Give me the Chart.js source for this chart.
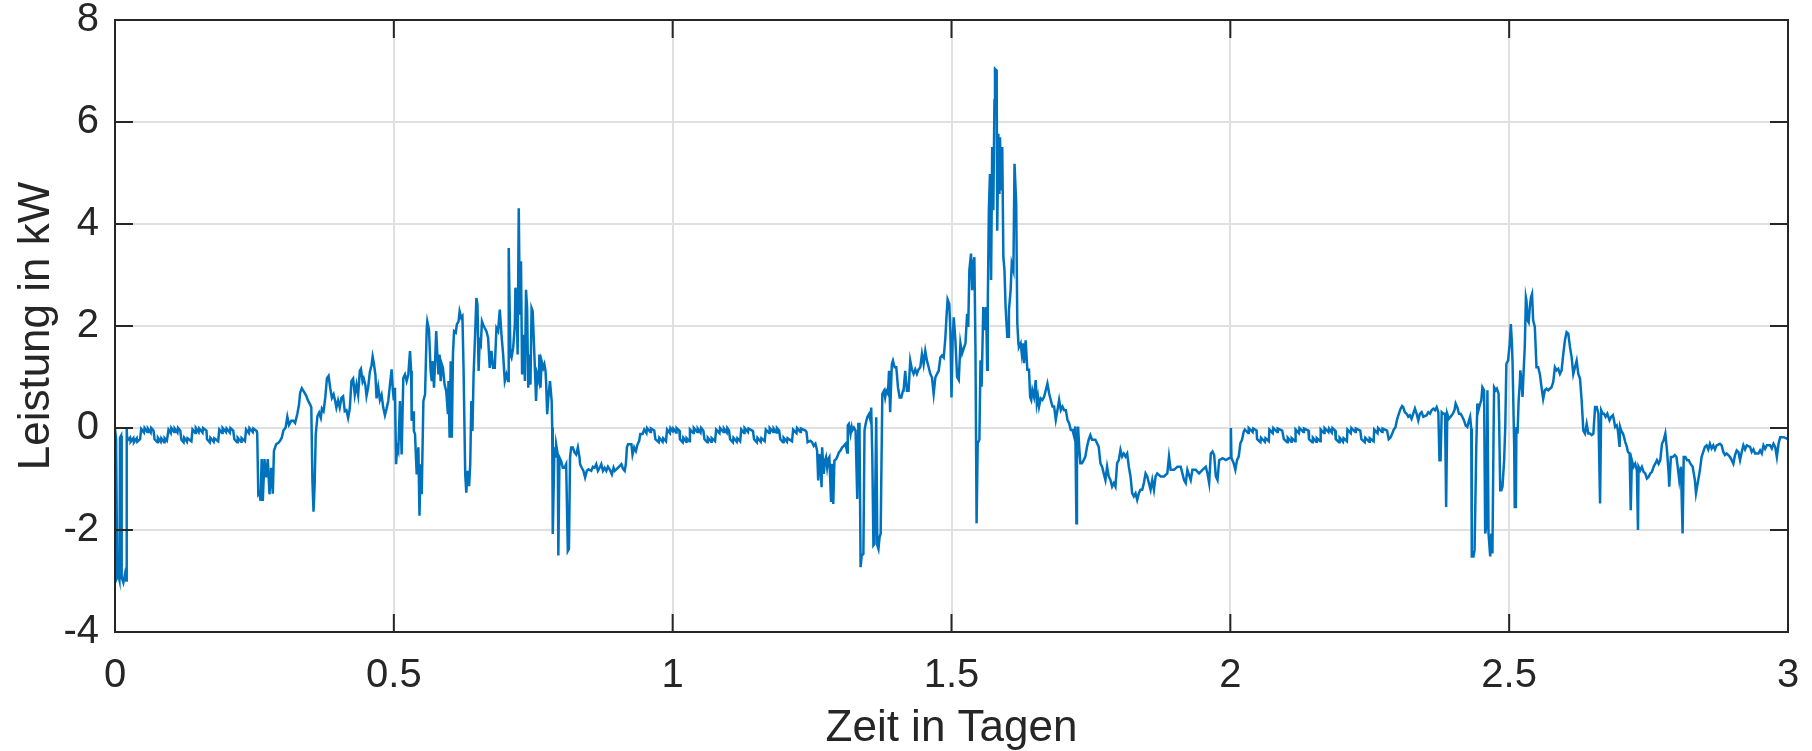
<!DOCTYPE html>
<html lang="de">
<head>
<meta charset="utf-8">
<title>Leistung über drei Tage</title>
<script src="https://cdn.jsdelivr.net/npm/chart.js@4/dist/chart.umd.min.js"></script>
<style>
  html, body { margin: 0; padding: 0; background: #fff; }
  canvas { display: block; }
</style>
</head>
<body>
<canvas id="leistungChart" width="1812" height="751"></canvas>
<script>
// Achsen
const xTicks = [0, 0.5, 1, 1.5, 2, 2.5, 3];
const yTicks = [-4, -2, 0, 2, 4, 6, 8];

// Messwerte [Zeit in Tagen, Leistung in kW], je Tag eine Liste
const tag1 = [
  [0.000, -0.02], [0.002, -0.22], [0.004, -2.93], [0.006, -2.88], [0.008, -2.98], [0.009, -0.19],
  [0.011, -0.15], [0.012, -2.93], [0.015, -3.03], [0.018, -2.86], [0.020, -2.99], [0.021, -0.02],
  [0.022, -0.25], [0.027, -0.19], [0.028, -0.27], [0.033, -0.20], [0.034, -0.28], [0.039, -0.20],
  [0.040, -0.27], [0.045, -0.22],
  [0.047, -0.02], [0.052, -0.09], [0.053, 0.00], [0.058, -0.08], [0.059, -0.01], [0.064, -0.09],
  [0.065, 0.00], [0.069, -0.05],
  [0.071, -0.22], [0.076, -0.28], [0.077, -0.19], [0.082, -0.27], [0.083, -0.20], [0.088, -0.28],
  [0.089, -0.20], [0.093, -0.25],
  [0.096, -0.03], [0.100, -0.10], [0.101, 0.00], [0.106, -0.08], [0.107, -0.01], [0.112, -0.09],
  [0.113, 0.00], [0.117, -0.05],
  [0.119, -0.23], [0.123, -0.28], [0.124, -0.19], [0.129, -0.27], [0.130, -0.20], [0.137, -0.26],
  [0.139, -0.03], [0.144, -0.10], [0.145, 0.00], [0.150, -0.08], [0.151, -0.01], [0.157, -0.09],
  [0.158, 0.00], [0.164, -0.05],
  [0.165, -0.22], [0.170, -0.28], [0.171, -0.19], [0.177, -0.27], [0.178, -0.20], [0.185, -0.26],
  [0.187, -0.03], [0.192, -0.10], [0.193, 0.00], [0.199, -0.08], [0.200, -0.01], [0.206, -0.09],
  [0.207, 0.00], [0.212, -0.05],
  [0.214, -0.22], [0.219, -0.28], [0.220, -0.19], [0.226, -0.27], [0.227, -0.20], [0.233, -0.26],
  [0.235, -0.03], [0.240, -0.10], [0.241, 0.00], [0.247, -0.08], [0.248, -0.01], [0.254, -0.06],
  [0.255, -0.10], [0.257, -1.30], [0.259, -1.27], [0.261, -1.43], [0.263, -0.61], [0.265, -1.43],
  [0.268, -0.61], [0.271, -0.97], [0.274, -0.61], [0.277, -1.30], [0.280, -0.78], [0.283, -1.29],
  [0.285, -0.45], [0.289, -0.32], [0.293, -0.29], [0.296, -0.25], [0.299, -0.19], [0.302, -0.05],
  [0.306, 0.01], [0.309, 0.22], [0.312, 0.06], [0.316, 0.14], [0.320, 0.14], [0.323, 0.10],
  [0.327, 0.28], [0.330, 0.46], [0.332, 0.69], [0.335, 0.78], [0.339, 0.71], [0.343, 0.63],
  [0.346, 0.54], [0.350, 0.46], [0.352, 0.40], [0.354, -1.04], [0.356, -1.64], [0.358, -1.10],
  [0.360, -0.12], [0.363, 0.23], [0.366, 0.30], [0.369, 0.20], [0.371, 0.38], [0.374, 0.33],
  [0.377, 0.59], [0.380, 0.97], [0.383, 1.02], [0.386, 0.78], [0.389, 0.59], [0.392, 0.66],
  [0.395, 0.52], [0.397, 0.40], [0.400, 0.54], [0.403, 0.40], [0.406, 0.59], [0.409, 0.62],
  [0.412, 0.33], [0.415, 0.35], [0.418, 0.20], [0.421, 0.38], [0.424, 0.92], [0.427, 0.97],
  [0.430, 0.65], [0.433, 0.85], [0.436, 0.65], [0.439, 1.12], [0.441, 1.16], [0.444, 0.91],
  [0.446, 0.97], [0.449, 0.84], [0.451, 0.63], [0.454, 0.80], [0.457, 1.10], [0.460, 1.23],
  [0.462, 1.40], [0.464, 1.28], [0.467, 1.04], [0.469, 0.58], [0.472, 0.80], [0.475, 0.55],
  [0.478, 0.65], [0.481, 0.40], [0.484, 0.25], [0.487, 0.38], [0.490, 0.53], [0.493, 0.84],
  [0.496, 1.15], [0.498, 0.78], [0.500, 0.54],
  [0.502, 0.79], [0.504, -0.71], [0.506, -0.38], [0.508, -0.45], [0.511, 0.53], [0.513, -0.12],
  [0.514, -0.52], [0.517, 0.98], [0.520, 1.05], [0.523, 0.92], [0.526, 1.05], [0.529, 1.51],
  [0.531, 1.12], [0.532, 0.14], [0.535, 0.33], [0.536, -0.06], [0.538, -0.12], [0.541, -0.91],
  [0.544, -0.38], [0.546, -1.72], [0.548, -0.71], [0.550, -1.30], [0.553, 0.53], [0.556, 0.66],
  [0.559, 1.96], [0.560, 2.09], [0.563, 1.93], [0.566, 1.12], [0.568, 0.92], [0.570, 1.31],
  [0.572, 0.79], [0.574, 1.31], [0.576, 1.90], [0.578, 1.44], [0.580, 1.05], [0.582, 1.44],
  [0.584, 0.92], [0.586, 1.25], [0.588, 1.18], [0.591, 0.85], [0.594, 0.72], [0.597, 0.27],
  [0.598, 0.92], [0.600, -0.19], [0.602, 1.31], [0.604, -0.19], [0.606, 1.44], [0.608, 1.90],
  [0.611, 1.87], [0.613, 2.03], [0.616, 2.09], [0.618, 2.29], [0.621, 2.16], [0.623, 2.19],
  [0.625, 1.18], [0.628, -0.91], [0.630, -1.27], [0.632, -0.84], [0.635, -1.14], [0.637, -0.71],
  [0.639, 0.53], [0.641, -0.06], [0.643, 1.05], [0.646, 1.90], [0.648, 2.55], [0.650, 2.42],
  [0.652, 1.12], [0.654, 1.70], [0.656, 1.64], [0.658, 2.09], [0.660, 2.03], [0.663, 1.96],
  [0.666, 1.90], [0.669, 1.77], [0.672, 1.18], [0.675, 1.51], [0.678, 1.18], [0.681, 1.18],
  [0.684, 1.96], [0.687, 1.90], [0.690, 2.32], [0.693, 1.83], [0.696, 1.44], [0.699, 0.92],
  [0.702, 1.05], [0.705, 0.92], [0.706, 3.53], [0.709, 1.44], [0.711, 1.38], [0.714, 1.57],
  [0.717, 2.03], [0.718, 2.75], [0.720, 2.55], [0.722, 1.44], [0.724, 4.31], [0.726, 2.22],
  [0.728, 3.27], [0.730, 1.05], [0.733, 1.83], [0.735, 0.92], [0.737, 2.71], [0.739, 2.35],
  [0.741, 0.79], [0.743, 1.44], [0.745, 0.85], [0.747, 2.35], [0.749, 2.29], [0.752, 1.44],
  [0.754, 0.85], [0.755, 0.53], [0.757, 1.05], [0.760, 0.92], [0.761, 1.44], [0.763, 0.79],
  [0.765, 1.31], [0.768, 1.18], [0.770, 1.25], [0.772, 1.12], [0.773, 0.92], [0.775, 0.27],
  [0.777, 0.59], [0.780, 0.92], [0.781, 0.79], [0.783, 0.53], [0.784, 0.01], [0.785, -2.08],
  [0.788, -0.38], [0.790, -0.58], [0.791, -0.32], [0.794, -0.52], [0.795, -2.50], [0.797, -0.58],
  [0.800, -0.65], [0.803, -0.78], [0.806, -0.78], [0.809, -0.71], [0.812, -2.41], [0.814, -2.37],
  [0.816, -0.58], [0.818, -0.38], [0.821, -0.38], [0.824, -0.48], [0.827, -0.52], [0.830, -0.38],
  [0.833, -0.58], [0.834, -0.71], [0.837, -0.78], [0.840, -0.84], [0.843, -0.97], [0.846, -0.84],
  [0.849, -0.81], [0.854, -0.84], [0.857, -0.76], [0.860, -0.78], [0.863, -0.71], [0.866, -0.84],
  [0.869, -0.78], [0.872, -0.71], [0.875, -0.84], [0.878, -0.78], [0.881, -0.84], [0.884, -0.76],
  [0.887, -0.81], [0.891, -0.91], [0.894, -0.78], [0.896, -0.84], [0.902, -0.78], [0.908, -0.71],
  [0.911, -0.80], [0.914, -0.84], [0.916, -0.71], [0.918, -0.38], [0.920, -0.32], [0.926, -0.32],
  [0.928, -0.52], [0.931, -0.38], [0.934, -0.45], [0.937, -0.32], [0.940, -0.25], [0.942, -0.12],
  [0.946, -0.12], [0.949, -0.03],
  [0.953, -0.10], [0.954, 0.00], [0.960, -0.08], [0.961, -0.01], [0.967, -0.05],
  [0.969, -0.22], [0.975, -0.28], [0.976, -0.19], [0.982, -0.27], [0.983, -0.20], [0.988, -0.26],
  [0.990, -0.03], [0.995, -0.10], [0.996, 0.00], [1.000, -0.06]
];

const tag2 = [
  [1.001, -0.01], [1.006, -0.09], [1.007, 0.00], [1.012, -0.05],
  [1.013, -0.22], [1.018, -0.28], [1.019, -0.19], [1.024, -0.27], [1.025, -0.20], [1.030, -0.26],
  [1.031, -0.03], [1.037, -0.10], [1.038, 0.00], [1.044, -0.08], [1.045, -0.01], [1.050, -0.09],
  [1.051, 0.00], [1.055, -0.05],
  [1.057, -0.22], [1.062, -0.28], [1.063, -0.19], [1.069, -0.27], [1.070, -0.20], [1.076, -0.26],
  [1.078, -0.03], [1.084, -0.10], [1.085, 0.00], [1.091, -0.08], [1.092, -0.01], [1.097, -0.09],
  [1.098, 0.00], [1.101, -0.05],
  [1.103, -0.22], [1.108, -0.28], [1.109, -0.19], [1.115, -0.27], [1.116, -0.20], [1.121, -0.26],
  [1.123, -0.03], [1.128, -0.10], [1.129, 0.00], [1.135, -0.08], [1.136, -0.01], [1.144, -0.06],
  [1.146, -0.22], [1.151, -0.28], [1.152, -0.19], [1.158, -0.27], [1.159, -0.20], [1.165, -0.26],
  [1.167, -0.03], [1.173, -0.10], [1.174, 0.00], [1.180, -0.08], [1.181, -0.01], [1.186, -0.09],
  [1.187, 0.00], [1.191, -0.05],
  [1.193, -0.22], [1.198, -0.28], [1.199, -0.19], [1.205, -0.27], [1.206, -0.20], [1.214, -0.26],
  [1.216, -0.03], [1.222, -0.10], [1.223, 0.00], [1.229, -0.08], [1.230, -0.01], [1.238, -0.05],
  [1.240, -0.08], [1.242, -0.28], [1.247, -0.25], [1.250, -0.28], [1.253, -0.35], [1.256, -0.31],
  [1.259, -0.44], [1.261, -1.03], [1.263, -0.51], [1.265, -0.70], [1.267, -1.16], [1.268, -0.38],
  [1.271, -0.90], [1.273, -0.64], [1.275, -0.57], [1.277, -0.77], [1.279, -0.61], [1.281, -0.57],
  [1.284, -1.45], [1.286, -0.70], [1.288, -1.49], [1.290, -0.64], [1.293, -0.61], [1.295, -0.57],
  [1.298, -0.48], [1.301, -0.44], [1.304, -0.38], [1.307, -0.35], [1.310, -0.31], [1.313, -0.48],
  [1.314, 0.05], [1.316, 0.08], [1.319, -0.12], [1.321, 0.01], [1.322, -0.05], [1.325, 0.01],
  [1.328, -0.05], [1.331, -1.39], [1.333, 0.08], [1.335, 0.08], [1.337, -2.73], [1.339, -2.50],
  [1.342, -2.47], [1.344, -0.05], [1.346, 0.08], [1.349, 0.21], [1.352, 0.27], [1.355, 0.14],
  [1.356, 0.40], [1.358, -0.57], [1.360, -2.30], [1.362, -2.27], [1.365, 0.21], [1.367, -2.30],
  [1.369, -2.37], [1.371, -2.14], [1.373, -2.07], [1.374, -1.10], [1.376, 0.67], [1.379, 0.73],
  [1.381, 0.60], [1.383, 0.73], [1.386, 0.67], [1.388, 1.12], [1.390, 0.31], [1.393, 1.25],
  [1.395, 1.32], [1.398, 1.19], [1.401, 1.19], [1.404, 0.80], [1.407, 0.60], [1.410, 0.60],
  [1.413, 0.73], [1.414, 0.73], [1.417, 1.12], [1.420, 0.73], [1.423, 0.73], [1.426, 1.32],
  [1.429, 1.15], [1.432, 1.06], [1.435, 1.15], [1.438, 1.06], [1.441, 1.15], [1.444, 1.19],
  [1.447, 1.45], [1.450, 1.25], [1.453, 1.51], [1.456, 1.32], [1.459, 1.19], [1.462, 1.06],
  [1.465, 0.99], [1.468, 0.67], [1.471, 0.99], [1.474, 1.06], [1.477, 1.12], [1.480, 1.38],
  [1.483, 1.42], [1.486, 1.38], [1.489, 1.77], [1.491, 2.17], [1.493, 2.52], [1.496, 2.43],
  [1.498, 1.90], [1.500, 0.60], [1.502, 1.71], [1.504, 2.17],
  [1.507, 1.72], [1.510, 1.00], [1.513, 0.94], [1.516, 1.66], [1.519, 1.46], [1.522, 1.56],
  [1.525, 1.66], [1.528, 2.24], [1.530, 1.98], [1.532, 3.09], [1.535, 3.42], [1.537, 2.70],
  [1.539, 3.22], [1.541, 3.35], [1.543, 1.53], [1.545, -1.87], [1.547, -0.30], [1.550, -0.23],
  [1.552, 1.33], [1.554, 0.81], [1.557, 2.37], [1.559, 1.92], [1.562, 2.37], [1.564, 1.14],
  [1.565, 2.37], [1.567, 4.27], [1.569, 4.98], [1.571, 2.90], [1.573, 5.51], [1.575, 4.27],
  [1.577, 6.42], [1.578, 7.04], [1.581, 7.01], [1.582, 3.87], [1.584, 5.77], [1.586, 4.59],
  [1.587, 5.70], [1.589, 4.66], [1.591, 5.51], [1.593, 3.35], [1.595, 3.09], [1.597, 2.37],
  [1.600, 1.79], [1.602, 1.79], [1.603, 2.31], [1.606, 2.70], [1.608, 3.22], [1.611, 3.09],
  [1.613, 5.18], [1.616, 4.40], [1.618, 2.05], [1.620, 1.66], [1.621, 1.59], [1.624, 1.66],
  [1.626, 1.46], [1.628, 1.66], [1.630, 1.27], [1.633, 1.72], [1.636, 1.14], [1.639, 1.14],
  [1.641, 0.61], [1.643, 0.55], [1.645, 0.74], [1.648, 0.61], [1.651, 0.94], [1.653, 0.48],
  [1.655, 0.61], [1.657, 0.42], [1.660, 0.58], [1.663, 0.55], [1.666, 0.61], [1.669, 0.74],
  [1.672, 0.87], [1.675, 0.68], [1.678, 0.55], [1.681, 0.42], [1.684, 0.42], [1.687, 0.16],
  [1.690, 0.35], [1.693, 0.55], [1.696, 0.35], [1.699, 0.42], [1.702, 0.35], [1.705, 0.35],
  [1.708, 0.16], [1.711, 0.09], [1.714, -0.04], [1.717, -0.04], [1.720, -0.17], [1.722, 0.03],
  [1.724, -1.87], [1.725, -0.63], [1.727, 0.03], [1.729, -0.37], [1.731, -0.69], [1.734, -0.69],
  [1.737, -0.63], [1.740, -0.56], [1.743, -0.37], [1.746, -0.23], [1.749, -0.14], [1.752, -0.23],
  [1.755, -0.23], [1.758, -0.23], [1.761, -0.30], [1.764, -0.37], [1.767, -0.69], [1.770, -0.76],
  [1.773, -0.89], [1.776, -1.02], [1.779, -0.76], [1.782, -0.95], [1.785, -1.02], [1.788, -1.15],
  [1.791, -1.08], [1.794, -1.15], [1.797, -0.69], [1.800, -0.63], [1.803, -0.43], [1.806, -0.56],
  [1.809, -0.50], [1.812, -0.56], [1.815, -0.50], [1.818, -0.76], [1.821, -0.95], [1.824, -1.28],
  [1.827, -1.34], [1.830, -1.28], [1.833, -1.41], [1.836, -1.28], [1.839, -1.21], [1.842, -1.21],
  [1.845, -1.08], [1.848, -0.89], [1.851, -0.95], [1.854, -1.08], [1.857, -1.21], [1.860, -1.02],
  [1.863, -1.21], [1.866, -0.95], [1.869, -0.89], [1.875, -0.95], [1.881, -0.95], [1.887, -0.89],
  [1.890, -0.56], [1.893, -0.82], [1.899, -0.82], [1.905, -0.76], [1.911, -0.76], [1.914, -0.89],
  [1.917, -1.02], [1.920, -1.08], [1.923, -0.82], [1.929, -1.02], [1.932, -0.82], [1.938, -0.82],
  [1.944, -0.89], [1.950, -0.82], [1.956, -0.76], [1.959, -0.89], [1.962, -1.08], [1.965, -0.50],
  [1.968, -0.46], [1.971, -0.53], [1.974, -0.95], [1.977, -1.02], [1.980, -0.63], [1.986, -0.59],
  [1.992, -0.63], [1.998, -0.59], [2.000, -0.59]
];

const tag3 = [
  [2.001, 0.00], [2.002, -0.59], [2.006, -0.69], [2.009, -0.82], [2.012, -0.63], [2.015, -0.56],
  [2.018, -0.30], [2.021, -0.23], [2.024, -0.07],
  [2.026, -0.03], [2.032, -0.10], [2.033, 0.00], [2.040, -0.08], [2.041, -0.01], [2.047, -0.05],
  [2.048, -0.22], [2.054, -0.28], [2.055, -0.19], [2.062, -0.27], [2.063, -0.20], [2.069, -0.26],
  [2.070, -0.03], [2.076, -0.10], [2.077, 0.00], [2.084, -0.08], [2.085, -0.01], [2.093, -0.05],
  [2.096, -0.22], [2.102, -0.28], [2.103, -0.19], [2.109, -0.27], [2.110, -0.20], [2.116, -0.26],
  [2.117, -0.03], [2.123, -0.10], [2.124, 0.00], [2.131, -0.08], [2.132, -0.01], [2.140, -0.05],
  [2.141, -0.22], [2.147, -0.28], [2.148, -0.19], [2.154, -0.27], [2.155, -0.20], [2.161, -0.26],
  [2.162, -0.03], [2.168, -0.10], [2.169, 0.00], [2.176, -0.08], [2.177, -0.01], [2.182, -0.09],
  [2.183, 0.00], [2.188, -0.05],
  [2.189, -0.22], [2.195, -0.28], [2.196, -0.19], [2.202, -0.27], [2.203, -0.20], [2.209, -0.26],
  [2.210, -0.03], [2.216, -0.10], [2.217, 0.00], [2.224, -0.08], [2.225, -0.01], [2.233, -0.05],
  [2.235, -0.22], [2.241, -0.28], [2.242, -0.19], [2.249, -0.27], [2.250, -0.20], [2.257, -0.26],
  [2.258, -0.03], [2.264, -0.10], [2.265, 0.00], [2.272, -0.08], [2.273, -0.01], [2.281, -0.05],
  [2.284, -0.22], [2.287, -0.19], [2.290, -0.12], [2.293, -0.03], [2.296, 0.01], [2.299, 0.17],
  [2.302, 0.27], [2.305, 0.37], [2.308, 0.43], [2.310, 0.41], [2.313, 0.31], [2.316, 0.28],
  [2.319, 0.22], [2.322, 0.25], [2.325, 0.18], [2.328, 0.28], [2.331, 0.38], [2.334, 0.28],
  [2.337, 0.15], [2.340, 0.28], [2.343, 0.31], [2.346, 0.22], [2.352, 0.25], [2.355, 0.31],
  [2.358, 0.28], [2.361, 0.35], [2.364, 0.38], [2.367, 0.35], [2.370, 0.41], [2.373, 0.31],
  [2.375, -0.63], [2.377, -0.63], [2.379, 0.31], [2.382, 0.28], [2.385, 0.28], [2.387, -1.55],
  [2.389, 0.28], [2.392, 0.18], [2.395, 0.22], [2.399, 0.28], [2.402, 0.35], [2.404, 0.48],
  [2.407, 0.41], [2.410, 0.28], [2.413, 0.28], [2.416, 0.22], [2.419, 0.15], [2.422, 0.05],
  [2.425, 0.02], [2.428, 0.15], [2.430, 0.22], [2.432, -0.01], [2.433, -2.52], [2.436, -2.52],
  [2.438, -2.39], [2.441, -0.37], [2.443, 0.48], [2.445, 0.35], [2.448, 0.48], [2.450, 0.54],
  [2.452, 0.80], [2.455, 0.74], [2.457, -2.07], [2.459, -1.94], [2.461, 0.74], [2.463, -2.07],
  [2.466, -2.52], [2.468, -2.07], [2.470, -2.46], [2.472, -0.11], [2.473, 0.80], [2.476, 0.74],
  [2.478, 0.77], [2.481, 0.67], [2.482, 0.15], [2.484, -1.22], [2.486, -1.22], [2.488, -1.15],
  [2.491, -0.63], [2.493, 0.02], [2.495, 1.26], [2.498, 1.32], [2.501, 1.65], [2.503, 2.04],
  [2.505, 1.65], [2.506, 1.32], [2.509, -0.37], [2.510, -1.55], [2.512, -1.55], [2.513, 0.02],
  [2.515, -0.11], [2.517, 0.54], [2.519, 0.87], [2.520, 1.13], [2.522, 0.93], [2.524, 0.61],
  [2.526, 1.13], [2.528, 1.59], [2.530, 2.56], [2.531, 2.50], [2.533, 2.11], [2.535, 2.07],
  [2.537, 2.37], [2.539, 2.56], [2.541, 2.63], [2.543, 2.11], [2.546, 1.98], [2.549, 1.19],
  [2.552, 1.19], [2.555, 1.06], [2.558, 0.80], [2.561, 0.57], [2.564, 0.74], [2.567, 0.77],
  [2.570, 0.74], [2.573, 0.77], [2.576, 0.80], [2.579, 0.90], [2.582, 1.19], [2.585, 1.13],
  [2.588, 1.16], [2.591, 1.06], [2.594, 1.13], [2.597, 1.45], [2.600, 1.72], [2.603, 1.88],
  [2.606, 1.85], [2.609, 1.59], [2.612, 1.39], [2.615, 1.06], [2.618, 1.19], [2.621, 1.32],
  [2.624, 1.06], [2.627, 0.97], [2.630, 0.54], [2.633, -0.05], [2.636, -0.11], [2.639, 0.08],
  [2.642, -0.11], [2.645, -0.11], [2.648, -0.14], [2.651, -0.11], [2.654, 0.41], [2.657, 0.41],
  [2.660, 0.28], [2.663, -1.48], [2.665, 0.35], [2.668, 0.28], [2.670, 0.28], [2.673, 0.22],
  [2.676, 0.28], [2.680, 0.15], [2.683, 0.22], [2.686, 0.25], [2.688, 0.15], [2.690, 0.02],
  [2.693, 0.05], [2.695, -0.05], [2.698, -0.37], [2.699, 0.02], [2.701, -0.05], [2.704, -0.11],
  [2.706, -0.18], [2.708, -0.27], [2.711, -0.37], [2.713, -0.47], [2.716, -0.50], [2.718, -1.61],
  [2.720, -0.63], [2.723, -0.76], [2.726, -0.70], [2.729, -0.83], [2.731, -2.00], [2.732, -0.76],
  [2.735, -0.83], [2.738, -0.76], [2.741, -0.86], [2.744, -0.89], [2.747, -0.99], [2.750, -0.96],
  [2.753, -0.89], [2.756, -0.86], [2.759, -0.76], [2.762, -0.70], [2.765, -0.63], [2.768, -0.70],
  [2.771, -0.63], [2.774, -0.31], [2.777, -0.24], [2.780, -0.11], [2.783, -0.44], [2.786, -0.89],
  [2.787, -1.15], [2.790, -0.57], [2.793, -0.57], [2.797, -0.53], [2.800, -0.57], [2.803, -0.83],
  [2.805, -1.02], [2.808, -0.76], [2.811, -2.07], [2.813, -0.57], [2.816, -0.57], [2.819, -0.63],
  [2.822, -0.63], [2.825, -0.70], [2.829, -0.76], [2.831, -0.89], [2.833, -1.02], [2.835, -1.28],
  [2.837, -1.15], [2.840, -0.96], [2.842, -0.83], [2.845, -0.57], [2.848, -0.47], [2.851, -0.37],
  [2.854, -0.34], [2.857, -0.42], [2.860, -0.31], [2.863, -0.40], [2.866, -0.34], [2.869, -0.42],
  [2.872, -0.34], [2.878, -0.31], [2.881, -0.34], [2.884, -0.47], [2.887, -0.53], [2.890, -0.50],
  [2.893, -0.53], [2.896, -0.57], [2.899, -0.63], [2.902, -0.70], [2.905, -0.53], [2.908, -0.44],
  [2.911, -0.47], [2.914, -0.63], [2.917, -0.47], [2.920, -0.34], [2.923, -0.42], [2.926, -0.34],
  [2.932, -0.37], [2.935, -0.47], [2.938, -0.42], [2.941, -0.50], [2.947, -0.50], [2.950, -0.44],
  [2.953, -0.50], [2.956, -0.34], [2.959, -0.41], [2.962, -0.34], [2.968, -0.34], [2.971, -0.40],
  [2.974, -0.31], [2.977, -0.37], [2.980, -0.57], [2.983, -0.31], [2.986, -0.18], [2.992, -0.18],
  [2.998, -0.21], [3.000, -0.20]
];

const punkte = tag1.concat(tag2, tag3).map(([t, p]) => ({ x: t, y: p }));

const schrift = "'Liberation Sans', Arial, Helvetica, sans-serif";
const achsenFarbe = '#262626';

// Rahmen mit Teilstrichen nach innen, wie bei MATLAB-Achsen
const rahmenPlugin = {
  id: 'rahmen',
  afterDatasetsDraw(chart) {
    const { ctx, chartArea: a, scales: { x, y } } = chart;
    const len = 18;
    ctx.save();
    ctx.strokeStyle = achsenFarbe;
    ctx.lineWidth = 2;
    ctx.beginPath();
    xTicks.forEach(v => {
      const px = x.getPixelForValue(v);
      ctx.moveTo(px, a.bottom); ctx.lineTo(px, a.bottom - len);
      ctx.moveTo(px, a.top); ctx.lineTo(px, a.top + len);
    });
    yTicks.forEach(v => {
      const py = y.getPixelForValue(v);
      ctx.moveTo(a.left, py); ctx.lineTo(a.left + len, py);
      ctx.moveTo(a.right, py); ctx.lineTo(a.right - len, py);
    });
    ctx.stroke();
    ctx.strokeRect(a.left, a.top, a.right - a.left, a.bottom - a.top);
    ctx.restore();
  }
};

const ctx = document.getElementById('leistungChart').getContext('2d');

new Chart(ctx, {
  type: 'line',
  data: {
    datasets: [{
      label: 'Leistung',
      data: punkte,
      borderColor: '#0072BD',
      borderWidth: 2.5,
      pointRadius: 0,
      tension: 0,
      fill: false
    }]
  },
  options: {
    responsive: false,
    animation: false,
    devicePixelRatio: 1,
    layout: { padding: { top: 20, right: 24, left: 0, bottom: 0 } },
    plugins: {
      legend: { display: false },
      tooltip: { enabled: false }
    },
    scales: {
      x: {
        type: 'linear',
        min: 0,
        max: 3,
        afterBuildTicks: s => { s.ticks = xTicks.map(v => ({ value: v })); },
        afterFit: s => { s.height = 119; s.paddingLeft = 0; s.paddingRight = 0; },
        grid: { color: '#e0e0e0', lineWidth: 2, drawTicks: false },
        border: { display: false },
        ticks: {
          padding: 20,
          color: achsenFarbe,
          font: { family: schrift, size: 40 },
          maxRotation: 0,
          callback: v => String(v)
        },
        title: {
          display: true,
          text: 'Zeit in Tagen',
          color: achsenFarbe,
          font: { family: schrift, size: 44, lineHeight: 1 },
          padding: { top: 0, bottom: 0 }
        }
      },
      y: {
        min: -4,
        max: 8,
        afterBuildTicks: s => { s.ticks = yTicks.map(v => ({ value: v })); },
        afterFit: s => { s.width = 115; s.paddingTop = 0; s.paddingBottom = 0; },
        grid: { color: '#e0e0e0', lineWidth: 2, drawTicks: false },
        border: { display: false },
        ticks: {
          padding: 16,
          color: achsenFarbe,
          font: { family: schrift, size: 40 },
          callback: v => String(v)
        },
        title: {
          display: true,
          text: 'Leistung in kW',
          color: achsenFarbe,
          font: { family: schrift, size: 44 },
          padding: { top: 10, bottom: 0 }
        }
      }
    }
  },
  plugins: [rahmenPlugin]
});
</script>
</body>
</html>
